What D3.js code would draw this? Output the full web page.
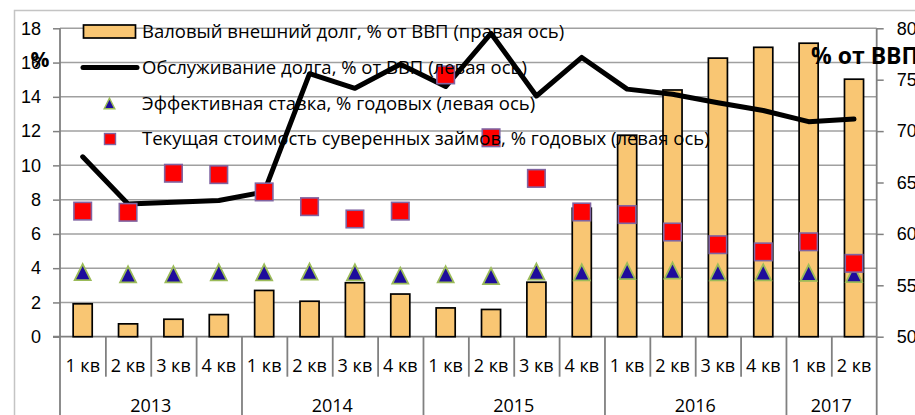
<!DOCTYPE html>
<html>
<head>
<meta charset="utf-8">
<script src="https://cdn.jsdelivr.net/npm/d3@7"></script>
<style>
  html, body { margin: 0; padding: 0; background: #fff; }
  svg { display: block; font-family: "Open Sans", "Noto Sans", sans-serif; }
</style>
</head>
<body>
<svg id="chart" width="915" height="415"></svg>
<script>
// Quarters and years on the category axis
const quarters = ["1 кв","2 кв","3 кв","4 кв","1 кв","2 кв","3 кв","4 кв","1 кв","2 кв","3 кв","4 кв","1 кв","2 кв","3 кв","4 кв","1 кв","2 кв"];
const years = ["2013","2014","2015","2016","2017"];
const yearSpans = [4, 4, 4, 4, 2];

// Gross external debt, % of GDP (right axis)
const grossDebt = [53.2, 51.25, 51.7, 52.15, 54.5, 53.45, 55.25, 54.15, 52.8, 52.65, 55.3, 62.5, 69.6, 74.0, 77.1, 78.15, 78.55, 75.05];
// Debt service, % of GDP (left axis)
const debtService = [10.5, 7.75, 7.85, 7.95, 8.45, 15.35, 14.5, 15.9, 14.6, 17.7, 14.05, 16.3, 14.45, 14.15, 13.65, 13.2, 12.55, 12.7];
// Effective rate, % per year (left axis)
const effectiveRate = [3.77, 3.64, 3.64, 3.76, 3.76, 3.8, 3.76, 3.56, 3.64, 3.54, 3.8, 3.76, 3.83, 3.86, 3.76, 3.76, 3.73, 3.65];
// Current cost of sovereign borrowing, % per year (left axis)
const sovereignCost = [7.33, 7.26, 9.54, 9.46, 8.45, 7.59, 6.87, 7.33, 15.28, 11.61, 9.24, 7.28, 7.13, 6.11, 5.37, 4.95, 5.54, 4.28];

const leftTicks = [0, 2, 4, 6, 8, 10, 12, 14, 16, 18];
const rightTicks = [50, 55, 60, 65, 70, 75, 80];

const legendLabels = [
  "Валовый внешний долг, % от ВВП (правая ось)",
  "Обслуживание долга, % от ВВП (левая ось)",
  "Эффективная ставка, % годовых (левая ось)",
  "Текущая стоимость суверенных займов, % годовых (левая ось)"
];

const C = {
  bar: "#F9C673", barStroke: "#000",
  line: "#000",
  triFill: "#1E0C9C", triStroke: "#9BBB59",
  sqFill: "#FF0000", sqStroke: "#8064A2",
  grid: "#A0A0A0", axis: "#808080", border: "#C4C4C4", text: "#000"
};
const FS = 18;
const AX_W = 1.8;

const svg = d3.select("#chart");
const plot = { left: 60, right: 876.7, top: 28.3, bottom: 336.7 };

svg.append("rect").attr("width", 915).attr("height", 415).attr("fill", "#fff");
// outer chart-area frame
svg.append("rect").attr("x", 14.5).attr("y", 10.5).attr("width", 920).attr("height", 430)
  .attr("fill", "none").attr("stroke", C.border).attr("stroke-width", 1.5);

const idx = d3.range(quarters.length);
const x = d3.scaleBand().domain(idx).range([plot.left, plot.right]).paddingInner(0).paddingOuter(0);
// position of category boundaries (0 .. n)
const xb = d3.scaleLinear().domain([0, quarters.length]).range([plot.left, plot.right]);
const yL = d3.scaleLinear().domain([0, 18]).range([plot.bottom, plot.top]);
const yR = d3.scaleLinear().domain([50, 80]).range([plot.bottom, plot.top]);
const cx = i => x(i) + x.bandwidth() / 2;

// horizontal gridlines (left axis)
svg.append("g").selectAll("line").data(leftTicks.filter(t => t > 0)).join("line")
  .attr("x1", plot.left).attr("x2", plot.right)
  .attr("y1", d => yL(d)).attr("y2", d => yL(d))
  .attr("stroke", C.grid).attr("stroke-width", 1.5);

// left axis
const gL = svg.append("g").attr("transform", `translate(${plot.left},0)`)
  .call(d3.axisLeft(yL).tickValues(leftTicks).tickSize(7).tickPadding(12));
gL.select(".domain").attr("d", `M0,${plot.top}V415`).attr("stroke", C.axis).attr("stroke-width", AX_W);
gL.selectAll(".tick line").attr("stroke", C.axis).attr("stroke-width", 1.5);
gL.selectAll(".tick text").attr("font-size", FS).attr("fill", C.text).attr("font-family", null);

// right axis
const gR = svg.append("g").attr("transform", `translate(${plot.right},0)`)
  .call(d3.axisRight(yR).tickValues(rightTicks).tickSize(7).tickPadding(13));
gR.select(".domain").attr("d", `M0,${plot.top}V415`).attr("stroke", C.axis).attr("stroke-width", AX_W);
gR.selectAll(".tick line").attr("stroke", C.axis).attr("stroke-width", 1.5);
gR.selectAll(".tick text").attr("font-size", FS).attr("fill", C.text).attr("font-family", null);

// category axis: baseline with quarter separators
const starts = Array.from(d3.cumsum([0, ...yearSpans]));
const inner = d3.range(1, quarters.length);
const gQ = svg.append("g").attr("transform", `translate(0,${plot.bottom})`)
  .call(d3.axisBottom(xb).tickValues(inner.filter(i => !starts.includes(i))).tickSize(40).tickFormat(""));
gQ.select(".domain").attr("d", `M${plot.left - 7},0H${plot.right}`).attr("stroke", C.axis).attr("stroke-width", AX_W);
gQ.selectAll(".tick line").attr("stroke", C.axis).attr("stroke-width", AX_W);

// year separators run to the bottom edge
const gY = svg.append("g").attr("transform", `translate(0,${plot.bottom})`)
  .call(d3.axisBottom(xb).tickValues(inner.filter(i => starts.includes(i))).tickSize(80).tickFormat(""));
gY.select(".domain").remove();
gY.selectAll(".tick line").attr("stroke", C.axis).attr("stroke-width", AX_W);

// quarter labels
svg.append("g").selectAll("text").data(quarters).join("text")
  .attr("x", (d, i) => cx(i)).attr("y", 371.5)
  .attr("text-anchor", "middle").attr("font-size", FS).attr("fill", C.text)
  .text(d => d);

// year labels
svg.append("g").selectAll("text").data(years).join("text")
  .attr("x", (d, i) => (xb(starts[i]) + xb(starts[i + 1])) / 2)
  .attr("y", 412).attr("text-anchor", "middle").attr("font-size", FS).attr("fill", C.text)
  .text(d => d);

// bars: gross external debt
const bw = x.bandwidth() * 0.42;
svg.append("g").selectAll("rect").data(grossDebt).join("rect")
  .attr("x", (d, i) => cx(i) - bw / 2).attr("width", bw)
  .attr("y", d => yR(d)).attr("height", d => yR(50) - yR(d))
  .attr("fill", C.bar).attr("stroke", C.barStroke).attr("stroke-width", 1.7);

// line: debt service
const line = d3.line().x((d, i) => cx(i)).y(d => yL(d));
svg.append("path").datum(debtService).attr("d", line)
  .attr("fill", "none").attr("stroke", C.line).attr("stroke-width", 5)
  .attr("stroke-linejoin", "round").attr("stroke-linecap", "round");

// triangles: effective rate
const tri = s => `M0,${-s / 2}L${s / 2},${s / 2}L${-s / 2},${s / 2}Z`;
svg.append("g").selectAll("path").data(effectiveRate).join("path")
  .attr("transform", (d, i) => `translate(${cx(i)},${yL(d)})`)
  .attr("d", tri(16)).attr("fill", C.triFill).attr("stroke", C.triStroke).attr("stroke-width", 1.8);

// squares: sovereign borrowing cost
const sq = 17.5;
svg.append("g").selectAll("rect").data(sovereignCost).join("rect")
  .attr("x", (d, i) => cx(i) - sq / 2).attr("y", d => yL(d) - sq / 2)
  .attr("width", sq).attr("height", sq)
  .attr("fill", C.sqFill).attr("stroke", C.sqStroke).attr("stroke-width", 1.6);

// legend
const lg = svg.append("g");
const rowBase = [37.5, 73.5, 109.5, 145];
const rowMid = rowBase.map(b => b - 6);
lg.append("rect").attr("x", 83.5).attr("y", rowMid[0] - 6.5).attr("width", 52).attr("height", 13)
  .attr("fill", C.bar).attr("stroke", C.barStroke).attr("stroke-width", 1.7);
lg.append("line").attr("x1", 83).attr("x2", 137).attr("y1", rowMid[1]).attr("y2", rowMid[1])
  .attr("stroke", C.line).attr("stroke-width", 5).attr("stroke-linecap", "round");
lg.append("path").attr("transform", `translate(109.5,${rowMid[2]})`).attr("d", tri(10.5))
  .attr("fill", C.triFill).attr("stroke", C.triStroke).attr("stroke-width", 1.5);
lg.append("rect").attr("x", 104.5).attr("y", rowMid[3] - 5.5).attr("width", 11).attr("height", 11)
  .attr("fill", C.sqFill).attr("stroke", C.sqStroke).attr("stroke-width", 1.4);
lg.selectAll("text").data(legendLabels).join("text")
  .attr("x", 142).attr("y", (d, i) => rowBase[i])
  .attr("font-size", 18.5).attr("fill", C.text).text(d => d);

// axis titles
svg.append("text").attr("x", 40).attr("y", 66.5).attr("text-anchor", "middle")
  .attr("font-size", 21).attr("font-weight", "bold").attr("fill", C.text).text("%");
svg.append("text").attr("x", 811).attr("y", 63.5)
  .attr("font-size", 23).attr("font-weight", "bold").attr("fill", C.text).text("% от ВВП");
</script>
</body>
</html>
